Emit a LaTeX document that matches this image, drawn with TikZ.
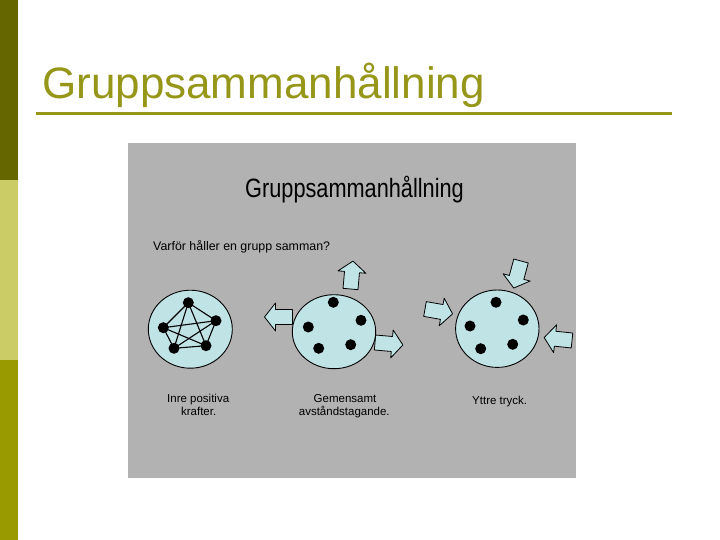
\documentclass[tikz,border=0pt]{standalone}
\usepackage{fontspec}
\setmainfont{Liberation Sans}
\newfontfamily\narrowsans{Liberation Sans}[FakeStretch=0.82]
\definecolor{olivetitle}{RGB}{150,150,25}
\definecolor{bardark}{RGB}{102,102,0}
\definecolor{barlight}{RGB}{204,204,102}
\definecolor{barmid}{RGB}{153,153,0}
\definecolor{panelgray}{RGB}{178,178,178}
\definecolor{bubblefill}{RGB}{192,227,230}
\tikzset{
  bubble/.style={draw=black, line width=0.9pt, fill=bubblefill},
  dotnode/.style={circle, fill=black, inner sep=0pt, minimum size=11pt},
  linkline/.style={draw=black, line width=1.1pt},
  arrowbody/.style={draw=black, line width=0.8pt, fill=bubblefill, line join=round},
  blockarrow/.pic={\path[arrowbody] (0,-7.5) -- (17,-7.5) -- (17,-14) -- (28,0) -- (17,14) -- (17,7.5) -- (0,7.5) -- cycle;},
  lbl/.style={anchor=base, inner sep=0pt, font=\fontsize{11.5}{12.5}\selectfont}
}
\begin{document}
\begin{tikzpicture}[x=1pt, y=-1pt]
\useasboundingbox (0,0) rectangle (720,540);
\fill[white] (0,0) rectangle (720,540);
% left bar
\fill[bardark] (0,0) rectangle (18,180);
\fill[barlight] (0,180) rectangle (18,360);
\fill[barmid] (0,360) rectangle (18,540);
% slide title
\node[anchor=base west, inner sep=0pt, text=olivetitle, font=\fontsize{44}{44}\selectfont] (slidetitle) at (42,99) {Gruppsammanhållning};
\draw[olivetitle, line width=3pt] (36,114) -- (672,114);
% gray panel
\fill[panelgray] (128,143) rectangle (576,478);
\node[anchor=base west, inner sep=0pt, font=\narrowsans\fontsize{26.5}{26.5}\selectfont] (paneltitle) at (245,197.3) {Gruppsammanhållning};
\node[anchor=base west, inner sep=0pt, font=\fontsize{12.4}{12.4}\selectfont] (question) at (153,251) {Varför håller en grupp samman?};
% arrows of group 2
\pic[rotate=85] at (350.5,289) {blockarrow};
\pic[rotate=180] at (292.5,317) {blockarrow};
\pic[rotate=-5] at (375,342.5) {blockarrow};
% arrows of group 3
\pic[rotate=-105] at (521,261) {blockarrow};
\pic[rotate=-10] at (425,309) {blockarrow};
\pic[rotate=174] at (572,340.5) {blockarrow};
% bubbles
\draw[bubble] (190.3,329.2) ellipse [x radius=42pt, y radius=39pt];
\draw[bubble] (334,331.7) ellipse [x radius=41.7pt, y radius=37pt];
\draw[bubble] (497.3,328.7) ellipse [x radius=41.7pt, y radius=38.7pt];
% group 1 dots and links
\node[dotnode] (a1) at (188.3,302.7) {};
\node[dotnode] (a2) at (216,320.7) {};
\node[dotnode] (a3) at (206,345.7) {};
\node[dotnode] (a4) at (174,348.3) {};
\node[dotnode] (a5) at (163.3,327.7) {};
\foreach \u/\v in {a1/a2,a1/a3,a1/a4,a1/a5,a2/a3,a2/a4,a2/a5,a3/a4,a3/a5,a4/a5}
  \draw[linkline] (\u.center) -- (\v.center);
% group 2 dots
\node[dotnode] (b1) at (333.3,302.3) {};
\node[dotnode] (b2) at (361,320.3) {};
\node[dotnode] (b3) at (350.7,344.7) {};
\node[dotnode] (b4) at (318.7,348.3) {};
\node[dotnode] (b5) at (308.3,327) {};
% group 3 dots
\node[dotnode] (c1) at (496,302.3) {};
\node[dotnode] (c2) at (523.3,320) {};
\node[dotnode] (c3) at (512.7,344.3) {};
\node[dotnode] (c4) at (480.7,348.7) {};
\node[dotnode] (c5) at (470,326) {};
% labels
\node[lbl] (l1a) at (198.2,402.7) {Inre positiva};
\node[lbl] (l1b) at (198.7,415) {krafter.};
\node[lbl] (l2a) at (345,402.7) {Gemensamt};
\node[lbl] (l2b) at (344.3,415) {avståndstagande.};
\node[lbl] (l3) at (499.7,404) {Yttre tryck.};
\end{tikzpicture}
\end{document}
